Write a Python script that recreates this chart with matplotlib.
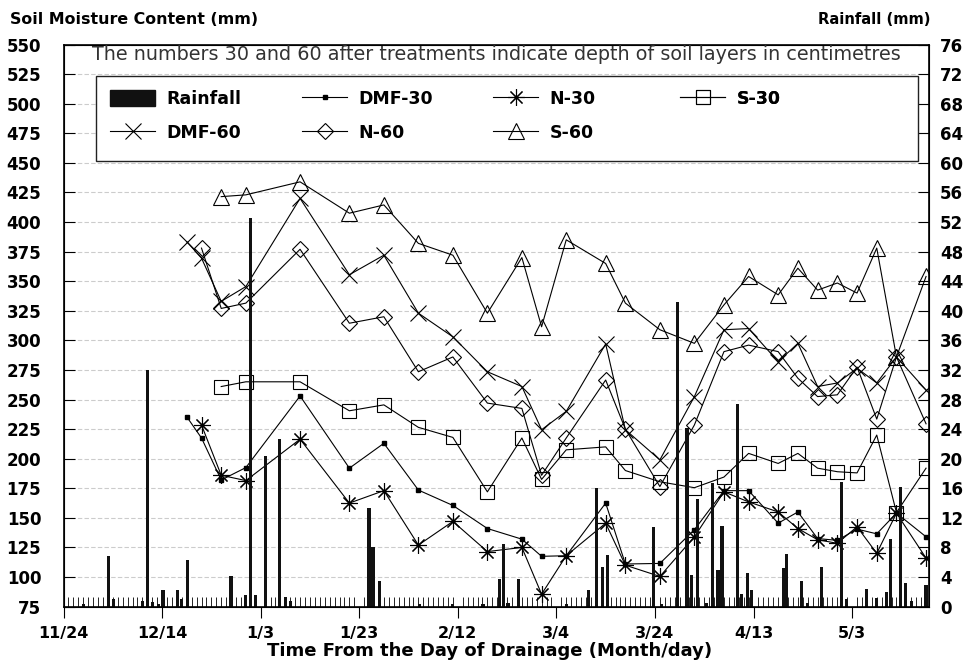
import numpy as np
import matplotlib
matplotlib.use("Agg")
import matplotlib.pyplot as plt
from matplotlib.ticker import MultipleLocator, FixedLocator
from matplotlib.lines import Line2D
from matplotlib.patches import Patch, Rectangle

# days counted from 11/24 (day of drainage)
tick_days = [0, 20, 40, 60, 80, 100, 120, 140, 160]
tick_labels = ["11/24", "12/14", "1/3", "1/23", "2/12", "3/4", "3/24", "4/13", "5/3"]

# soil moisture (mm)
dmf_days = [25, 28, 32, 37, 48, 58, 65, 72, 79, 86, 93, 97, 102, 110, 114, 121,
            128, 134, 139, 145, 149, 153, 157, 161, 165, 169, 175]
dmf30 = [235.5, 217.5, 182, 192.5, 253, 192, 213, 173.5, 160.5, 141, 132, 117.5, 118,
         162.5, 111, 111.5, 140, 173, 173, 145.5, 155, 132.5, 131, 140.5, 136.5, 154, 134]
dmf60 = [383.5, 369.5, 333, 345.5, 420, 355.5, 372, 323, 303, 273.5, 261, 224.5, 240,
         297, 224.5, 199, 252.5, 309, 310, 282, 297.5, 261, 264, 276.5, 264, 286, 258]

n_days = dmf_days[1:]
n30 = [228.5, 186, 181.5, 216.5, 162.5, 173, 127, 147, 121.5, 125, 85.5, 118, 145.5,
       110, 100.5, 134, 172, 163.5, 155, 141, 131.5, 128.5, 142.5, 120, 154, 116]
n60 = [378, 327, 331.5, 377, 314.5, 320, 273.5, 286, 247, 242.5, 186, 217.5, 266.5,
       225, 176.5, 228.5, 290.5, 296, 290.5, 268, 252.5, 254, 277.5, 233.5, 286, 229.5]

s_days = dmf_days[2:]
s30 = [261, 265, 265, 240.5, 245.5, 226.5, 218, 172, 217.5, 182.5, 207.5, 210, 190,
       180.5, 175.5, 184.5, 204.5, 196, 204.5, 192, 189, 188, 220, 154.5, 192]
s60 = [421.5, 423, 434, 407.5, 414.5, 382, 372, 323, 370, 311.5, 385, 365, 331.5,
       309, 297.5, 330, 354, 338.5, 361, 342.5, 348.5, 340, 378, 286, 354]

# daily rainfall (mm)
rain_days = [4.0, 9.1, 10.1, 16.0, 17.0, 18.0, 19.2, 20.2, 23.2, 24.0, 25.1, 34.0,
             37.0, 38.0, 39.0, 41.0, 43.9, 45.1, 46.1, 62.0, 62.8, 64.1, 72.3, 79.0,
             85.1, 88.4, 89.2, 90.2, 92.3, 102.1, 106.5, 108.2, 109.3, 110.4, 119.7,
             121.3, 124.5, 126.5, 127.4, 128.6, 130.5, 131.6, 132.8, 133.6, 136.7,
             137.6, 138.8, 139.6, 146.0, 146.7, 149.8, 151.0, 153.8, 157.9, 158.9,
             162.9, 164.9, 167.0, 167.8, 169.8, 170.9, 172.1, 175.0]
rain_mm = [0.3, 6.8, 1.0, 0.7, 32.0, 0.6, 0.4, 2.3, 2.2, 1.0, 6.3, 4.1,
           1.6, 52.5, 1.6, 20.3, 22.7, 1.3, 0.7, 13.4, 8.0, 3.4, 0.3, 0.3,
           0.4, 3.8, 8.5, 0.5, 3.8, 0.3, 2.2, 16.0, 5.3, 7.0, 10.8,
           0.3, 41.2, 24.1, 4.3, 14.6, 0.5, 16.7, 5.0, 10.9, 27.4,
           1.7, 4.5, 2.3, 5.2, 7.1, 3.4, 0.5, 5.4, 16.8, 1.0,
           2.4, 1.2, 2.0, 9.2, 16.2, 3.2, 0.8, 2.9]

plt.rcParams['font.family'] = ['DejaVu Sans']
fig = plt.figure(figsize=(9.64, 6.65), dpi=100)
ax1 = fig.add_axes([63.5 / 964, 1 - 606.6 / 665, (929 - 63.5) / 964, (606.6 - 44.6) / 665])
ax2 = ax1.twinx()

lw = 0.8
ax1.plot(dmf_days, dmf30, '-', color='k', lw=lw, marker='s', ms=3, mfc='k', zorder=3)
ax1.plot(dmf_days, dmf60, '-', color='k', lw=lw, marker='x', ms=11, mew=0.8, zorder=3)
ax1.plot(n_days, n30, '-', color='k', lw=lw, marker=(8, 2, 0), ms=12, mew=0.8, zorder=3)
ax1.plot(n_days, n60, '-', color='k', lw=lw, marker='D', ms=8.5, mfc='none', mew=0.8, zorder=3)
ax1.plot(s_days, s30, '-', color='k', lw=lw, marker='s', ms=10, mfc='none', mew=0.8, zorder=3)
ax1.plot(s_days, s60, '-', color='k', lw=lw, marker='^', ms=11, mfc='none', mew=0.8, zorder=3)

ax2.bar(rain_days, rain_mm, width=0.65, color='#111111', zorder=2)

ax1.set_xlim(0, 175.6)
ax1.set_ylim(75, 550)
ax2.set_ylim(0, 76)

ax1.set_yticks(np.arange(75, 551, 25))
ax2.set_yticks(np.arange(0, 77, 4))
ax1.xaxis.set_major_locator(FixedLocator(tick_days))
ax1.set_xticklabels(tick_labels)
ax1.xaxis.set_minor_locator(MultipleLocator(1))

for lab in ax1.get_yticklabels() + ax2.get_yticklabels():
    lab.set_fontsize(12)
    lab.set_fontweight('bold')
for lab in ax1.get_xticklabels():
    lab.set_fontsize(11.5)
    lab.set_fontweight('bold')

ax1.tick_params(axis='y', direction='in', length=8, width=0.8, pad=16)
ax2.tick_params(axis='y', direction='in', length=8, width=0.8, pad=8)
ax1.tick_params(axis='x', which='major', direction='out', length=8, width=0.8, pad=6)
ax1.tick_params(axis='x', which='minor', direction='in', length=7, width=0.6)

ax1.yaxis.grid(True, ls=(0, (4, 2)), color='#cccccc', lw=0.8)
ax1.set_axisbelow(True)
for sp in ax2.spines.values():
    sp.set_linewidth(1.2)

ax2.text(0.5, (606.6 - 55) / 562, "The numbers 30 and 60 after treatments indicate depth of soil layers in centimetres",
         transform=ax2.transAxes, ha='center', va='center', fontsize=13.8, color='#333333')

# legend box
ax2.add_patch(Rectangle((0.0376, 0.793), 0.9497, 0.151, transform=ax2.transAxes,
                        facecolor='white', edgecolor='#222222', lw=1.0, zorder=5))

handles = [
    Patch(facecolor='#111111', edgecolor='#111111'),
    Line2D([], [], color='k', lw=lw, marker='x', ms=11, mew=0.8),
    Line2D([], [], color='k', lw=lw, marker='s', ms=3, mfc='k'),
    Line2D([], [], color='k', lw=lw, marker='D', ms=8.5, mfc='none', mew=0.8),
    Line2D([], [], color='k', lw=lw, marker=(8, 2, 0), ms=12, mew=0.8),
    Line2D([], [], color='k', lw=lw, marker='^', ms=11, mfc='none', mew=0.8),
    Line2D([], [], color='k', lw=lw, marker='s', ms=10, mfc='none', mew=0.8),
]
labels = ["Rainfall", "DMF-60", "DMF-30", "N-60", "N-30", "S-60", "S-30"]
col_x = [110, 302, 493, 680]
col_items = [(0, 2), (2, 4), (4, 6), (6, 7)]
for cx, (a, b) in zip(col_x, col_items):
    leg = ax2.legend(handles[a:b], labels[a:b], loc='upper left',
                     bbox_to_anchor=((cx - 63.5) / 865.5, (606.6 - 90) / 562),
                     prop=dict(size=12.5, weight='bold'), frameon=False,
                     handlelength=2.6, handleheight=1.05, labelspacing=0.92,
                     borderpad=0, handletextpad=0.65, borderaxespad=0)
    leg.set_zorder(6)
    ax2.add_artist(leg)

fig.text(10 / 964, 1 - 19 / 665, "Soil Moisture Content (mm)", ha='left', va='center',
         fontsize=11.4, fontweight='bold')
fig.text(930 / 964, 1 - 19 / 665, "Rainfall (mm)", ha='right', va='center',
         fontsize=10.6, fontweight='bold')
fig.text(490 / 964, 1 - 651 / 665, "Time From the Day of Drainage (Month/day)",
         ha='center', va='center', fontsize=13, fontweight='bold')

fig.savefig("out.png", dpi=100)
